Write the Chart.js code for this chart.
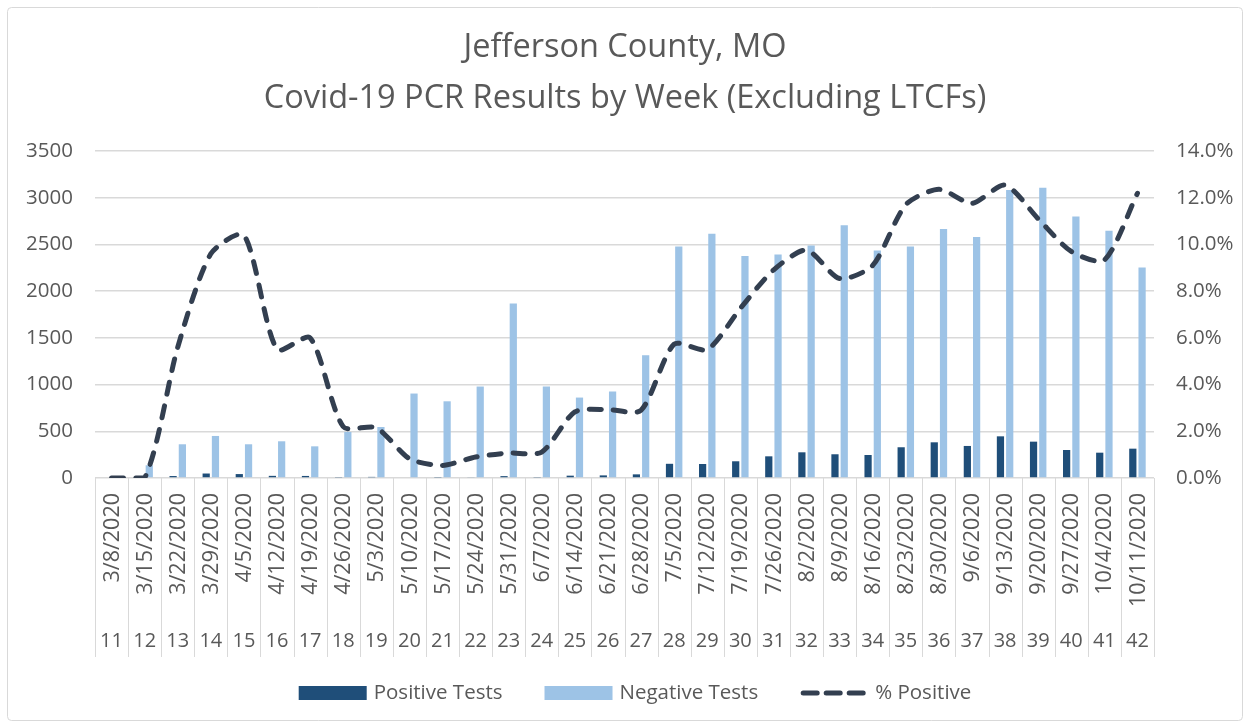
<!DOCTYPE html>
<html>
<head>
<meta charset="utf-8">
<script src="https://cdn.jsdelivr.net/npm/chart.js@4"></script>
<style>
  html, body { margin: 0; padding: 0; background: #fff; }
  #wrap { width: 1250px; height: 728px; }
</style>
</head>
<body>
<div id="wrap"><canvas id="pcrChart" width="1250" height="728"></canvas></div>
<script>
const weeks = [11, 12, 13, 14, 15, 16, 17, 18, 19, 20, 21, 22, 23, 24, 25, 26, 27, 28, 29, 30, 31, 32, 33, 34, 35, 36, 37, 38, 39, 40, 41, 42];
const dates = ['3/8/2020', '3/15/2020', '3/22/2020', '3/29/2020', '4/5/2020', '4/12/2020', '4/19/2020', '4/26/2020',
    '5/3/2020', '5/10/2020', '5/17/2020', '5/24/2020', '5/31/2020', '6/7/2020', '6/14/2020', '6/21/2020', '6/28/2020',
    '7/5/2020', '7/12/2020', '7/19/2020', '7/26/2020', '8/2/2020', '8/9/2020', '8/16/2020', '8/23/2020', '8/30/2020',
    '9/6/2020', '9/13/2020', '9/20/2020', '9/27/2020', '10/4/2020', '10/11/2020'];
const positiveTests = [0, 0, 21, 48, 42, 23, 22, 11, 12, 8, 5, 9, 20, 11, 25, 28, 39, 152, 150, 179, 232, 275, 254, 246, 329, 382, 343, 446, 389, 300, 271, 314];
const negativeTests = [2, 136, 361, 450, 361, 393, 339, 493, 546, 904, 821, 979, 1868, 979, 861, 925, 1314, 2479, 2614, 2375, 2393, 2489, 2704, 2436, 2479, 2664, 2579, 3082, 3107, 2800, 2646, 2254];
const pctPositive = [0, 0, 5.6, 9.6, 10.4, 5.5, 6.0, 2.2, 2.15, 0.83, 0.54, 0.9, 1.07, 1.11, 2.83, 2.93, 2.9, 5.73, 5.5, 7.26, 8.9, 9.76, 8.54, 9.1, 11.7, 12.36, 11.76, 12.54, 11.1, 9.7, 9.33, 12.19];

const FONT = '"Open Sans", "Noto Sans", sans-serif';
const TEXT = '#595959';
const GRID = '#D9D9D9';
const POS_COLOR = '#1F4E79';
const NEG_COLOR = '#9DC3E6';
const LINE_COLOR = '#333F50';

// border round the whole chart
const framePlugin = {
    id: 'frame',
    beforeDraw(chart) {
        const ctx = chart.ctx;
        ctx.save();
        ctx.fillStyle = '#fff';
        ctx.fillRect(0, 0, chart.width, chart.height);
        ctx.strokeStyle = GRID;
        ctx.lineWidth = 1;
        ctx.beginPath();
        ctx.roundRect(7.5, 7.5, chart.width - 15, chart.height - 15, 4);
        ctx.stroke();
        ctx.restore();
    }
};

// two level category labels (date + week number) and the legend
const axisLabelsPlugin = {
    id: 'axisLabels',
    afterDraw(chart) {
        const ctx = chart.ctx;
        const xs = chart.scales.x;
        const area = chart.chartArea;
        const step = xs.getPixelForValue(1) - xs.getPixelForValue(0);
        const bottom = 657;

        ctx.save();
        ctx.strokeStyle = GRID;
        ctx.lineWidth = 1;
        for (let i = 0; i <= weeks.length; i++) {
            const x = Math.round(xs.getPixelForValue(i) - step / 2) + 0.5;
            ctx.beginPath();
            ctx.moveTo(x, area.bottom);
            ctx.lineTo(x, bottom);
            ctx.stroke();
        }

        ctx.fillStyle = TEXT;
        ctx.font = '21.5px ' + FONT;
        dates.forEach((d, i) => {
            const x = xs.getPixelForValue(i);
            ctx.save();
            ctx.translate(x + 1, area.bottom + 15);
            ctx.rotate(-Math.PI / 2);
            ctx.textAlign = 'right';
            ctx.textBaseline = 'middle';
            ctx.fillText(d, 0, 0);
            ctx.restore();
        });

        ctx.font = '20px ' + FONT;
        ctx.textAlign = 'center';
        ctx.textBaseline = 'middle';
        weeks.forEach((w, i) => {
            ctx.fillText(String(w), xs.getPixelForValue(i), 641);
        });

        // legend
        ctx.font = '20.5px ' + FONT;
        const items = [
            { label: 'Positive Tests', type: 'box', color: POS_COLOR },
            { label: 'Negative Tests', type: 'box', color: NEG_COLOR },
            { label: '% Positive', type: 'dash', color: LINE_COLOR }
        ];
        const markW = 68, markGap = 7, itemGap = 42, ly = 693;
        const widths = items.map(it => markW + markGap + ctx.measureText(it.label).width);
        const total = widths.reduce((a, b) => a + b, 0) + itemGap * (items.length - 1);
        let lx = 635 - total / 2;
        ctx.textAlign = 'left';
        items.forEach((it, i) => {
            if (it.type === 'box') {
                ctx.fillStyle = it.color;
                ctx.fillRect(lx, ly - 7, markW, 14);
            } else {
                ctx.strokeStyle = it.color;
                ctx.lineWidth = 5;
                ctx.lineCap = 'round';
                ctx.setLineDash([14, 9]);
                ctx.beginPath();
                ctx.moveTo(lx + 3, ly);
                ctx.lineTo(lx + markW - 2, ly);
                ctx.stroke();
                ctx.setLineDash([]);
            }
            ctx.fillStyle = TEXT;
            ctx.fillText(it.label, lx + markW + markGap, ly);
            lx += widths[i] + itemGap;
        });
        ctx.restore();
    }
};

const ctx = document.getElementById('pcrChart').getContext('2d');

new Chart(ctx, {
    type: 'bar',
    data: {
        labels: dates,
        datasets: [
            {
                type: 'line',
                label: '% Positive',
                data: pctPositive,
                yAxisID: 'y1',
                borderColor: LINE_COLOR,
                backgroundColor: LINE_COLOR,
                borderWidth: 5,
                borderDash: [12, 12],
                borderCapStyle: 'round',
                tension: 0.25,
                pointRadius: 0,
                fill: false,
                order: 0
            },
            {
                label: 'Positive Tests',
                data: positiveTests,
                yAxisID: 'y',
                backgroundColor: POS_COLOR,
                categoryPercentage: 0.56,
                barPercentage: 0.78,
                order: 1
            },
            {
                label: 'Negative Tests',
                data: negativeTests,
                yAxisID: 'y',
                backgroundColor: NEG_COLOR,
                categoryPercentage: 0.56,
                barPercentage: 0.78,
                order: 2
            }
        ]
    },
    options: {
        responsive: false,
        animation: false,
        layout: {
            padding: { left: 0, right: 0, top: 0, bottom: 71 }
        },
        plugins: {
            legend: { display: false },
            tooltip: { enabled: false },
            title: {
                display: true,
                text: ['Jefferson County, MO', 'Covid-19 PCR Results by Week (Excluding LTCFs)'],
                color: TEXT,
                font: { family: FONT, size: 32.5, weight: 'normal', lineHeight: 51 / 32.5 },
                padding: { top: 22, bottom: 27 }
            }
        },
        scales: {
            x: {
                grid: { display: false },
                border: { display: false },
                ticks: { display: false },
                afterFit(scale) { scale.height = 179; }
            },
            y: {
                position: 'left',
                min: 0,
                max: 3500,
                ticks: {
                    stepSize: 500,
                    color: TEXT,
                    padding: 22,
                    font: { family: FONT, size: 20.5 },
                    callback: v => String(v)
                },
                grid: { color: GRID, lineWidth: 1.5, drawTicks: false },
                border: { display: false },
                afterFit(scale) { scale.width = 95; }
            },
            y1: {
                position: 'right',
                min: 0,
                max: 14,
                ticks: {
                    stepSize: 2,
                    color: TEXT,
                    padding: 22,
                    font: { family: FONT, size: 20.5 },
                    callback: v => v.toFixed(1) + '%'
                },
                grid: { display: false, drawTicks: false },
                border: { display: false },
                afterFit(scale) { scale.width = 96; }
            }
        }
    },
    plugins: [framePlugin, axisLabelsPlugin]
});
</script>
</body>
</html>
